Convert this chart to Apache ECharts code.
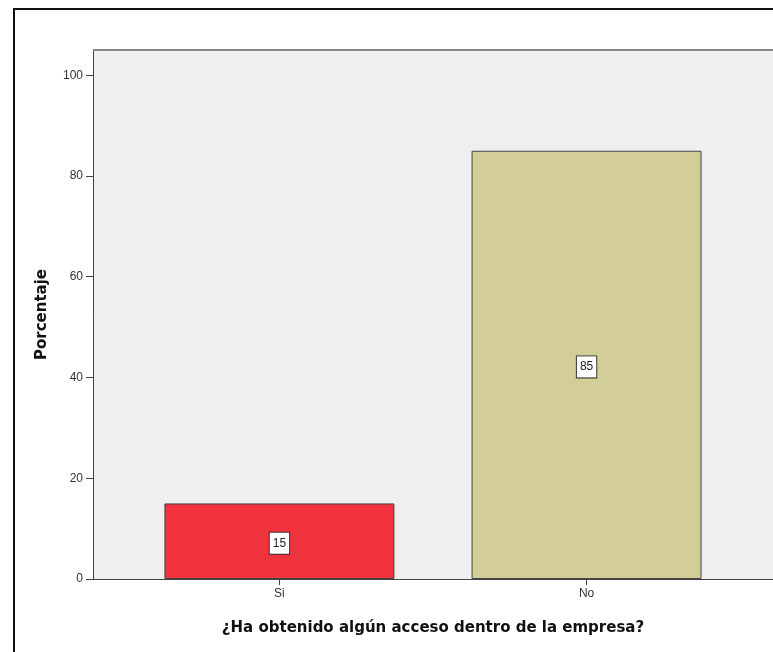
<!DOCTYPE html>
<html>
<head>
<meta charset="utf-8">
<script src="https://cdn.jsdelivr.net/npm/echarts@6/dist/echarts.min.js"></script>
<style>
  html, body { margin: 0; padding: 0; background: #fff; }
  #frame { position: absolute; left: 13px; top: 8px; width: 780px; height: 680px;
           border-left: 2px solid #111; border-top: 2px solid #111; box-sizing: border-box; }
  #chart { position: absolute; left: 0; top: 0; width: 773px; height: 652px; }
</style>
</head>
<body>
<div id="frame"></div>
<div id="chart"></div>
<script>
// Answers to the question, and the share of respondents for each (%)
const categories = ['Si', 'No'];
const percentages = [15, 85];
const yTicks = [0, 20, 40, 60, 80, 100];
const barColors = ['#EF323B', '#D3CE98'];

const chart = echarts.init(document.getElementById('chart'), null, { renderer: 'canvas' });

const barData = percentages.map((v, i) => ({
  value: [i, v],
  itemStyle: { color: barColors[i] }
}));

chart.setOption({
  animation: false,
  grid: {
    left: 93, top: 50, right: 0, bottom: 73,
    show: true, backgroundColor: '#EFEFEF', borderWidth: 0
  },
  xAxis: {
    type: 'value',
    min: -0.607, max: 1.607,
    name: '¿Ha obtenido algún acceso dentro de la empresa?',
    nameLocation: 'middle',
    nameGap: 42,
    nameTextStyle: { fontFamily: 'DejaVu Sans', fontWeight: 'bold', fontSize: 15, color: '#111' },
    axisLine: { show: true, onZero: false, lineStyle: { color: '#444', width: 1 } },
    axisTick: { show: true, customValues: [0, 1], length: 6, lineStyle: { color: '#444' } },
    axisLabel: {
      customValues: [0, 1],
      formatter: v => categories[Math.round(v)],
      fontFamily: 'Liberation Sans', fontSize: 12, color: '#333', margin: 9
    },
    splitLine: { show: false }
  },
  yAxis: {
    type: 'value',
    min: 0, max: 105,
    name: 'Porcentaje',
    nameLocation: 'middle',
    nameGap: 43,
    nameRotate: 90,
    nameTextStyle: { fontFamily: 'DejaVu Sans', fontWeight: 'bold', fontSize: 15, color: '#111' },
    axisLine: { show: true, onZero: false, lineStyle: { color: '#444', width: 1 } },
    axisTick: { show: true, customValues: yTicks, length: 7, lineStyle: { color: '#444' } },
    axisLabel: {
      customValues: yTicks,
      fontFamily: 'Liberation Sans', fontSize: 12, color: '#333', margin: 10
    },
    splitLine: { show: false }
  },
  graphic: [{
    // grey rule along the top of the plot area
    type: 'line', shape: { x1: 93, y1: 50, x2: 773, y2: 50 },
    style: { stroke: '#888', lineWidth: 2 }, z: 10
  }],
  series: [{
    type: 'bar',
    data: barData,
    barWidth: 230,
    itemStyle: { borderColor: '#444', borderWidth: 1 },
    label: {
      show: true,
      position: 'inside',
      offset: [0, 2],
      formatter: p => String(p.value[1]),
      fontFamily: 'Liberation Sans', fontSize: 12, color: '#222',
      backgroundColor: '#fff', borderColor: '#333', borderWidth: 1,
      padding: [5, 3, 4, 3]
    }
  }]
});
</script>
</body>
</html>
